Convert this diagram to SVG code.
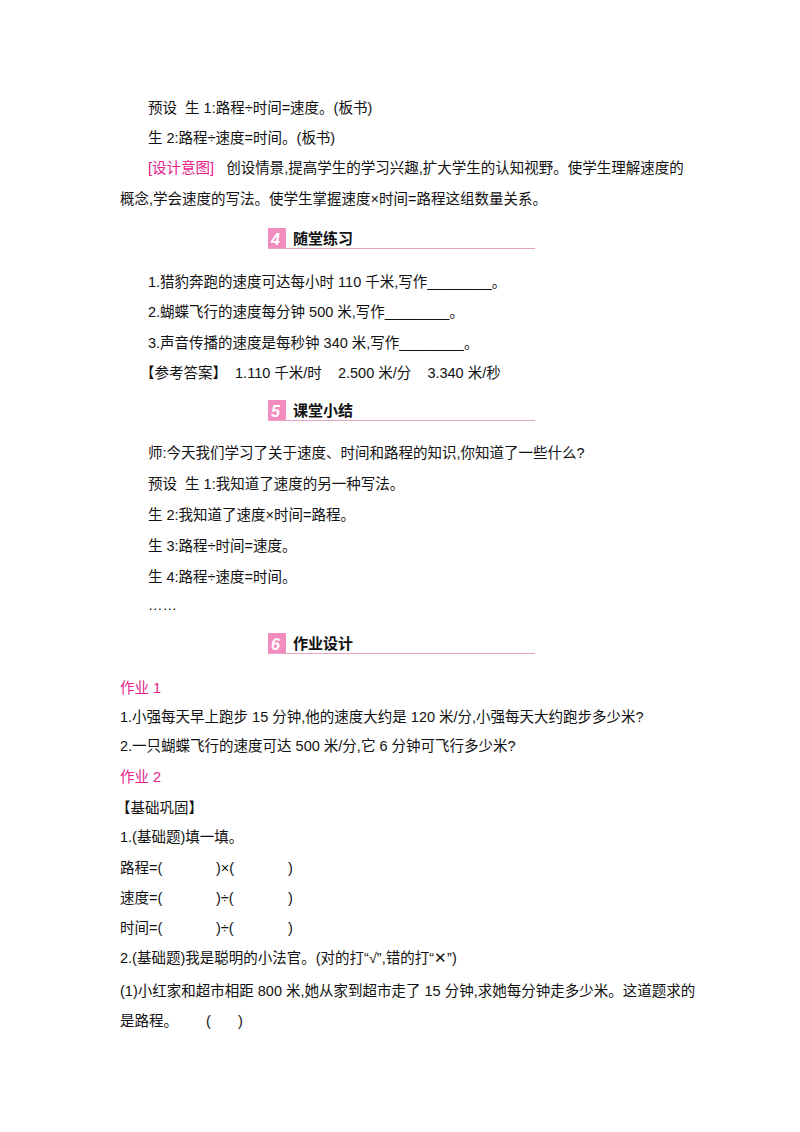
<svg xmlns="http://www.w3.org/2000/svg" width="800" height="1132" viewBox="0 0 800 1132">
<style>
text{font-family:"Liberation Sans","Noto Sans CJK SC",sans-serif;font-size:14.5px;fill:#111;white-space:pre}
.p{fill:#e4208c}
.h{font-weight:bold;font-size:15px}
.n{font-family:"Liberation Sans",sans-serif;font-weight:bold;font-style:italic;font-size:16px;fill:#fff}
</style>
<rect width="800" height="1132" fill="#fff"/>
<g id="text1">
<text x="148" y="113">预设  生 1:路程÷时间=速度。(板书)</text>
<text x="148" y="143">生 2:路程÷速度=时间。(板书)</text>
<text x="148" y="173"><tspan class="p">[设计意图]</tspan>   创设情景,提高学生的学习兴趣,扩大学生的认知视野。使学生理解速度的</text>
<text x="120" y="204">概念,学会速度的写法。使学生掌握速度×时间=路程这组数量关系。</text>
</g>
<g id="h4">
<rect x="268" y="228" width="18" height="20" fill="#f28cbf"/>
<text class="n" x="271" y="245">4</text>
<text class="h" x="293" y="244">随堂练习</text>
<line x1="268" y1="248.5" x2="535" y2="248.5" stroke="#e9a3c4" stroke-width="1"/>
</g>
<g id="text2">
<text x="148" y="287">1.猎豹奔跑的速度可达每小时 110 千米,写作________。</text>
<text x="148" y="317">2.蝴蝶飞行的速度每分钟 500 米,写作________。</text>
<text x="148" y="348">3.声音传播的速度是每秒钟 340 米,写作________。</text>
<text x="140" y="378">【参考答案】  1.110 千米/时    2.500 米/分    3.340 米/秒</text>
</g>
<g id="h5">
<rect x="268" y="400" width="18" height="20" fill="#f28cbf"/>
<text class="n" x="271" y="417">5</text>
<text class="h" x="293" y="416">课堂小结</text>
<line x1="268" y1="420.5" x2="535" y2="420.5" stroke="#e9a3c4" stroke-width="1"/>
</g>
<g id="text3">
<text x="148" y="458">师:今天我们学习了关于速度、时间和路程的知识,你知道了一些什么?</text>
<text x="148" y="489">预设  生 1:我知道了速度的另一种写法。</text>
<text x="148" y="520">生 2:我知道了速度×时间=路程。</text>
<text x="148" y="551">生 3:路程÷时间=速度。</text>
<text x="148" y="582">生 4:路程÷速度=时间。</text>
<text x="148" y="610">……</text>
</g>
<g id="h6">
<rect x="268" y="633" width="18" height="20" fill="#f28cbf"/>
<text class="n" x="271" y="650">6</text>
<text class="h" x="293" y="649">作业设计</text>
<line x1="268" y1="653.5" x2="535" y2="653.5" stroke="#e9a3c4" stroke-width="1"/>
</g>
<g id="text4">
<text class="p" x="120" y="693">作业 1</text>
<text x="120" y="722">1.小强每天早上跑步 15 分钟,他的速度大约是 120 米/分,小强每天大约跑步多少米?</text>
<text x="120" y="751">2.一只蝴蝶飞行的速度可达 500 米/分,它 6 分钟可飞行多少米?</text>
<text class="p" x="120" y="782">作业 2</text>
<text x="116" y="813">【基础巩固】</text>
<text x="120" y="842">1.(基础题)填一填。</text>
<text x="120" y="873">路程=(</text><text x="216" y="873">)×(</text><text x="288" y="873">)</text>
<text x="120" y="903">速度=(</text><text x="216" y="903">)÷(</text><text x="288" y="903">)</text>
<text x="120" y="933">时间=(</text><text x="216" y="933">)÷(</text><text x="288" y="933">)</text>
<text x="120" y="963">2.(基础题)我是聪明的小法官。(对的打“√”,错的打“✕”)</text>
<text x="120" y="996">(1)小红家和超市相距 800 米,她从家到超市走了 15 分钟,求她每分钟走多少米。这道题求的</text>
<text x="120" y="1026">是路程。</text><text x="206" y="1026">(</text><text x="238" y="1026">)</text>
</g>
</svg>
